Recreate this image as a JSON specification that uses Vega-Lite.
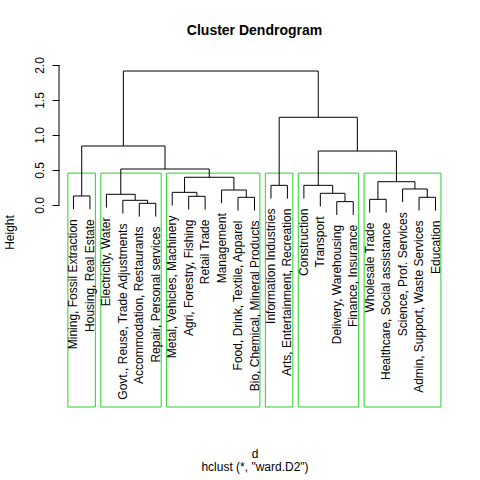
{
  "$schema": "https://vega.github.io/schema/vega-lite/v6.json",
  "autosize": {"type": "none"},
  "padding": {"left": 59, "top": 59, "right": 30, "bottom": 73},
  "width": 391,
  "height": 348,
  "background": "white",
  "config": {
    "view": {"stroke": null},
    "font": "Liberation Sans",
    "axis": {"grid": false, "labelFont": "Liberation Sans", "titleFont": "Liberation Sans", "labelColor": "black", "titleColor": "black", "tickColor": "black", "labelFontSize": 12, "titleFontSize": 12, "titleFontWeight": "normal"}
  },
  "title": {"text": "Cluster Dendrogram", "font": "Liberation Sans", "fontSize": 14, "fontWeight": "bold", "color": "black", "anchor": "middle", "offset": 19},
  "datasets": {
    "merges": [
      {"xl": 5, "hl": -0.165, "xr": 6, "hr": -0.165, "h": 0.024},
      {"xl": 17, "hl": -0.141, "xr": 18, "hr": -0.141, "h": 0.048},
      {"xl": 4, "hl": -0.122, "xr": 5.5, "hr": 0.024, "h": 0.067},
      {"xl": 19, "hl": -0.108, "xr": 20, "hr": -0.108, "h": 0.081},
      {"xl": 11, "hl": -0.079, "xr": 12, "hr": -0.079, "h": 0.110},
      {"xl": 22, "hl": -0.079, "xr": 23, "hr": -0.079, "h": 0.110},
      {"xl": 8, "hl": -0.065, "xr": 9, "hr": -0.065, "h": 0.124},
      {"xl": 1, "hl": -0.060, "xr": 2, "hr": -0.060, "h": 0.129},
      {"xl": 3, "hl": -0.036, "xr": 4.75, "hr": 0.067, "h": 0.153},
      {"xl": 16, "hl": -0.022, "xr": 17.5, "hr": 0.048, "h": 0.167},
      {"xl": 7, "hl": -0.008, "xr": 8.5, "hr": 0.124, "h": 0.181},
      {"xl": 10, "hl": 0.025, "xr": 11.5, "hr": 0.110, "h": 0.214},
      {"xl": 21, "hl": 0.040, "xr": 22.5, "hr": 0.110, "h": 0.229},
      {"xl": 13, "hl": 0.092, "xr": 14, "hr": 0.092, "h": 0.281},
      {"xl": 15, "hl": 0.092, "xr": 16.75, "hr": 0.167, "h": 0.281},
      {"xl": 19.5, "hl": 0.081, "xr": 21.75, "hr": 0.229, "h": 0.333},
      {"xl": 7.75, "hl": 0.181, "xr": 10.75, "hr": 0.214, "h": 0.396},
      {"xl": 3.875, "hl": 0.153, "xr": 9.25, "hr": 0.396, "h": 0.514},
      {"xl": 15.875, "hl": 0.281, "xr": 20.625, "hr": 0.333, "h": 0.771},
      {"xl": 1.5, "hl": 0.129, "xr": 6.5625, "hr": 0.514, "h": 0.843},
      {"xl": 13.5, "hl": 0.281, "xr": 18.25, "hr": 0.771, "h": 1.253},
      {"xl": 4.03125, "hl": 0.843, "xr": 15.875, "hr": 1.253, "h": 1.914}
    ],
    "leaves": [
      {"pos": 1, "label": "Mining, Fossil Extraction", "bottom": -0.060},
      {"pos": 2, "label": "Housing, Real Estate", "bottom": -0.060},
      {"pos": 3, "label": "Electricity, Water", "bottom": -0.036},
      {"pos": 4, "label": "Govt., Reuse, Trade Adjustments", "bottom": -0.122},
      {"pos": 5, "label": "Accommodation, Restaurants", "bottom": -0.165},
      {"pos": 6, "label": "Repair, Personal services", "bottom": -0.165},
      {"pos": 7, "label": "Metal, Vehicles, Machinery", "bottom": -0.008},
      {"pos": 8, "label": "Agri, Forestry, Fishing", "bottom": -0.065},
      {"pos": 9, "label": "Retail Trade", "bottom": -0.065},
      {"pos": 10, "label": "Management", "bottom": 0.025},
      {"pos": 11, "label": "Food, Drink, Textile, Apparel", "bottom": -0.079},
      {"pos": 12, "label": "Bio, Chemical, Mineral Products", "bottom": -0.079},
      {"pos": 13, "label": "Information Industries", "bottom": 0.092},
      {"pos": 14, "label": "Arts, Entertainment, Recreation", "bottom": 0.092},
      {"pos": 15, "label": "Construction", "bottom": 0.092},
      {"pos": 16, "label": "Transport", "bottom": -0.022},
      {"pos": 17, "label": "Delivery, Warehousing", "bottom": -0.141},
      {"pos": 18, "label": "Finance, Insurance", "bottom": -0.141},
      {"pos": 19, "label": "Wholesale Trade", "bottom": -0.108},
      {"pos": 20, "label": "Healthcare, Social assistance", "bottom": -0.108},
      {"pos": 21, "label": "Science, Prof. Services", "bottom": 0.040},
      {"pos": 22, "label": "Admin, Support, Waste Services", "bottom": -0.079},
      {"pos": 23, "label": "Education", "bottom": -0.079}
    ],
    "clusters": [
      {"x1": 0.66, "x2": 2.33, "top": 0.455, "bottom": -2.8857},
      {"x1": 2.66, "x2": 6.33, "top": 0.455, "bottom": -2.8857},
      {"x1": 6.66, "x2": 12.33, "top": 0.455, "bottom": -2.8857},
      {"x1": 12.66, "x2": 14.33, "top": 0.455, "bottom": -2.8857},
      {"x1": 14.66, "x2": 18.33, "top": 0.455, "bottom": -2.8857},
      {"x1": 18.66, "x2": 23.33, "top": 0.455, "bottom": -2.8857}
    ],
    "axisline": [{"from": 0, "to": 2, "at": 0.12}]
  },
  "layer": [
    {
      "data": {"name": "clusters"},
      "mark": {"type": "rect", "fill": null, "stroke": "#2BD02B", "strokeWidth": 1},
      "encoding": {
        "x": {"field": "x1", "type": "quantitative", "scale": {"domain": [0.12, 23.88], "nice": false, "zero": false}, "axis": {"labels": false, "ticks": false, "domain": false, "title": ["d", "hclust (*, \"ward.D2\")"], "titlePadding": 41, "titleLineHeight": 13}},
        "x2": {"field": "x2"},
        "y": {"field": "top", "type": "quantitative", "scale": {"domain": [-2.8857, 2.0857], "nice": false, "zero": false}, "axis": {"values": [0, 0.5, 1, 1.5, 2], "format": ".1f", "domain": false, "tickSize": 7, "labelAngle": 270, "labelAlign": "center", "labelBaseline": "alphabetic", "labelPadding": 9, "title": "Height", "titleAngle": 270, "titleX": -50, "titleY": 173, "titleAlign": "center", "titleBaseline": "middle"}},
        "y2": {"field": "bottom"}
      }
    },
    {
      "data": {"name": "merges"},
      "mark": {"type": "rule", "color": "black", "strokeWidth": 1},
      "encoding": {
        "x": {"field": "xl", "type": "quantitative"},
        "x2": {"field": "xr"},
        "y": {"field": "h", "type": "quantitative"}
      }
    },
    {
      "data": {"name": "merges"},
      "mark": {"type": "rule", "color": "black", "strokeWidth": 1},
      "encoding": {
        "x": {"field": "xl", "type": "quantitative"},
        "y": {"field": "hl", "type": "quantitative"},
        "y2": {"field": "h"}
      }
    },
    {
      "data": {"name": "merges"},
      "mark": {"type": "rule", "color": "black", "strokeWidth": 1},
      "encoding": {
        "x": {"field": "xr", "type": "quantitative"},
        "y": {"field": "hr", "type": "quantitative"},
        "y2": {"field": "h"}
      }
    },
    {
      "data": {"name": "leaves"},
      "mark": {"type": "text", "angle": 270, "align": "right", "baseline": "middle", "dx": -10, "font": "Liberation Sans", "fontSize": 12, "color": "black"},
      "encoding": {
        "x": {"field": "pos", "type": "quantitative"},
        "y": {"field": "bottom", "type": "quantitative"},
        "text": {"field": "label"}
      }
    },
    {
      "data": {"name": "axisline"},
      "mark": {"type": "rule", "color": "black", "strokeWidth": 1, "clip": false},
      "encoding": {
        "x": {"field": "at", "type": "quantitative"},
        "y": {"field": "from", "type": "quantitative"},
        "y2": {"field": "to"}
      }
    }
  ]
}
